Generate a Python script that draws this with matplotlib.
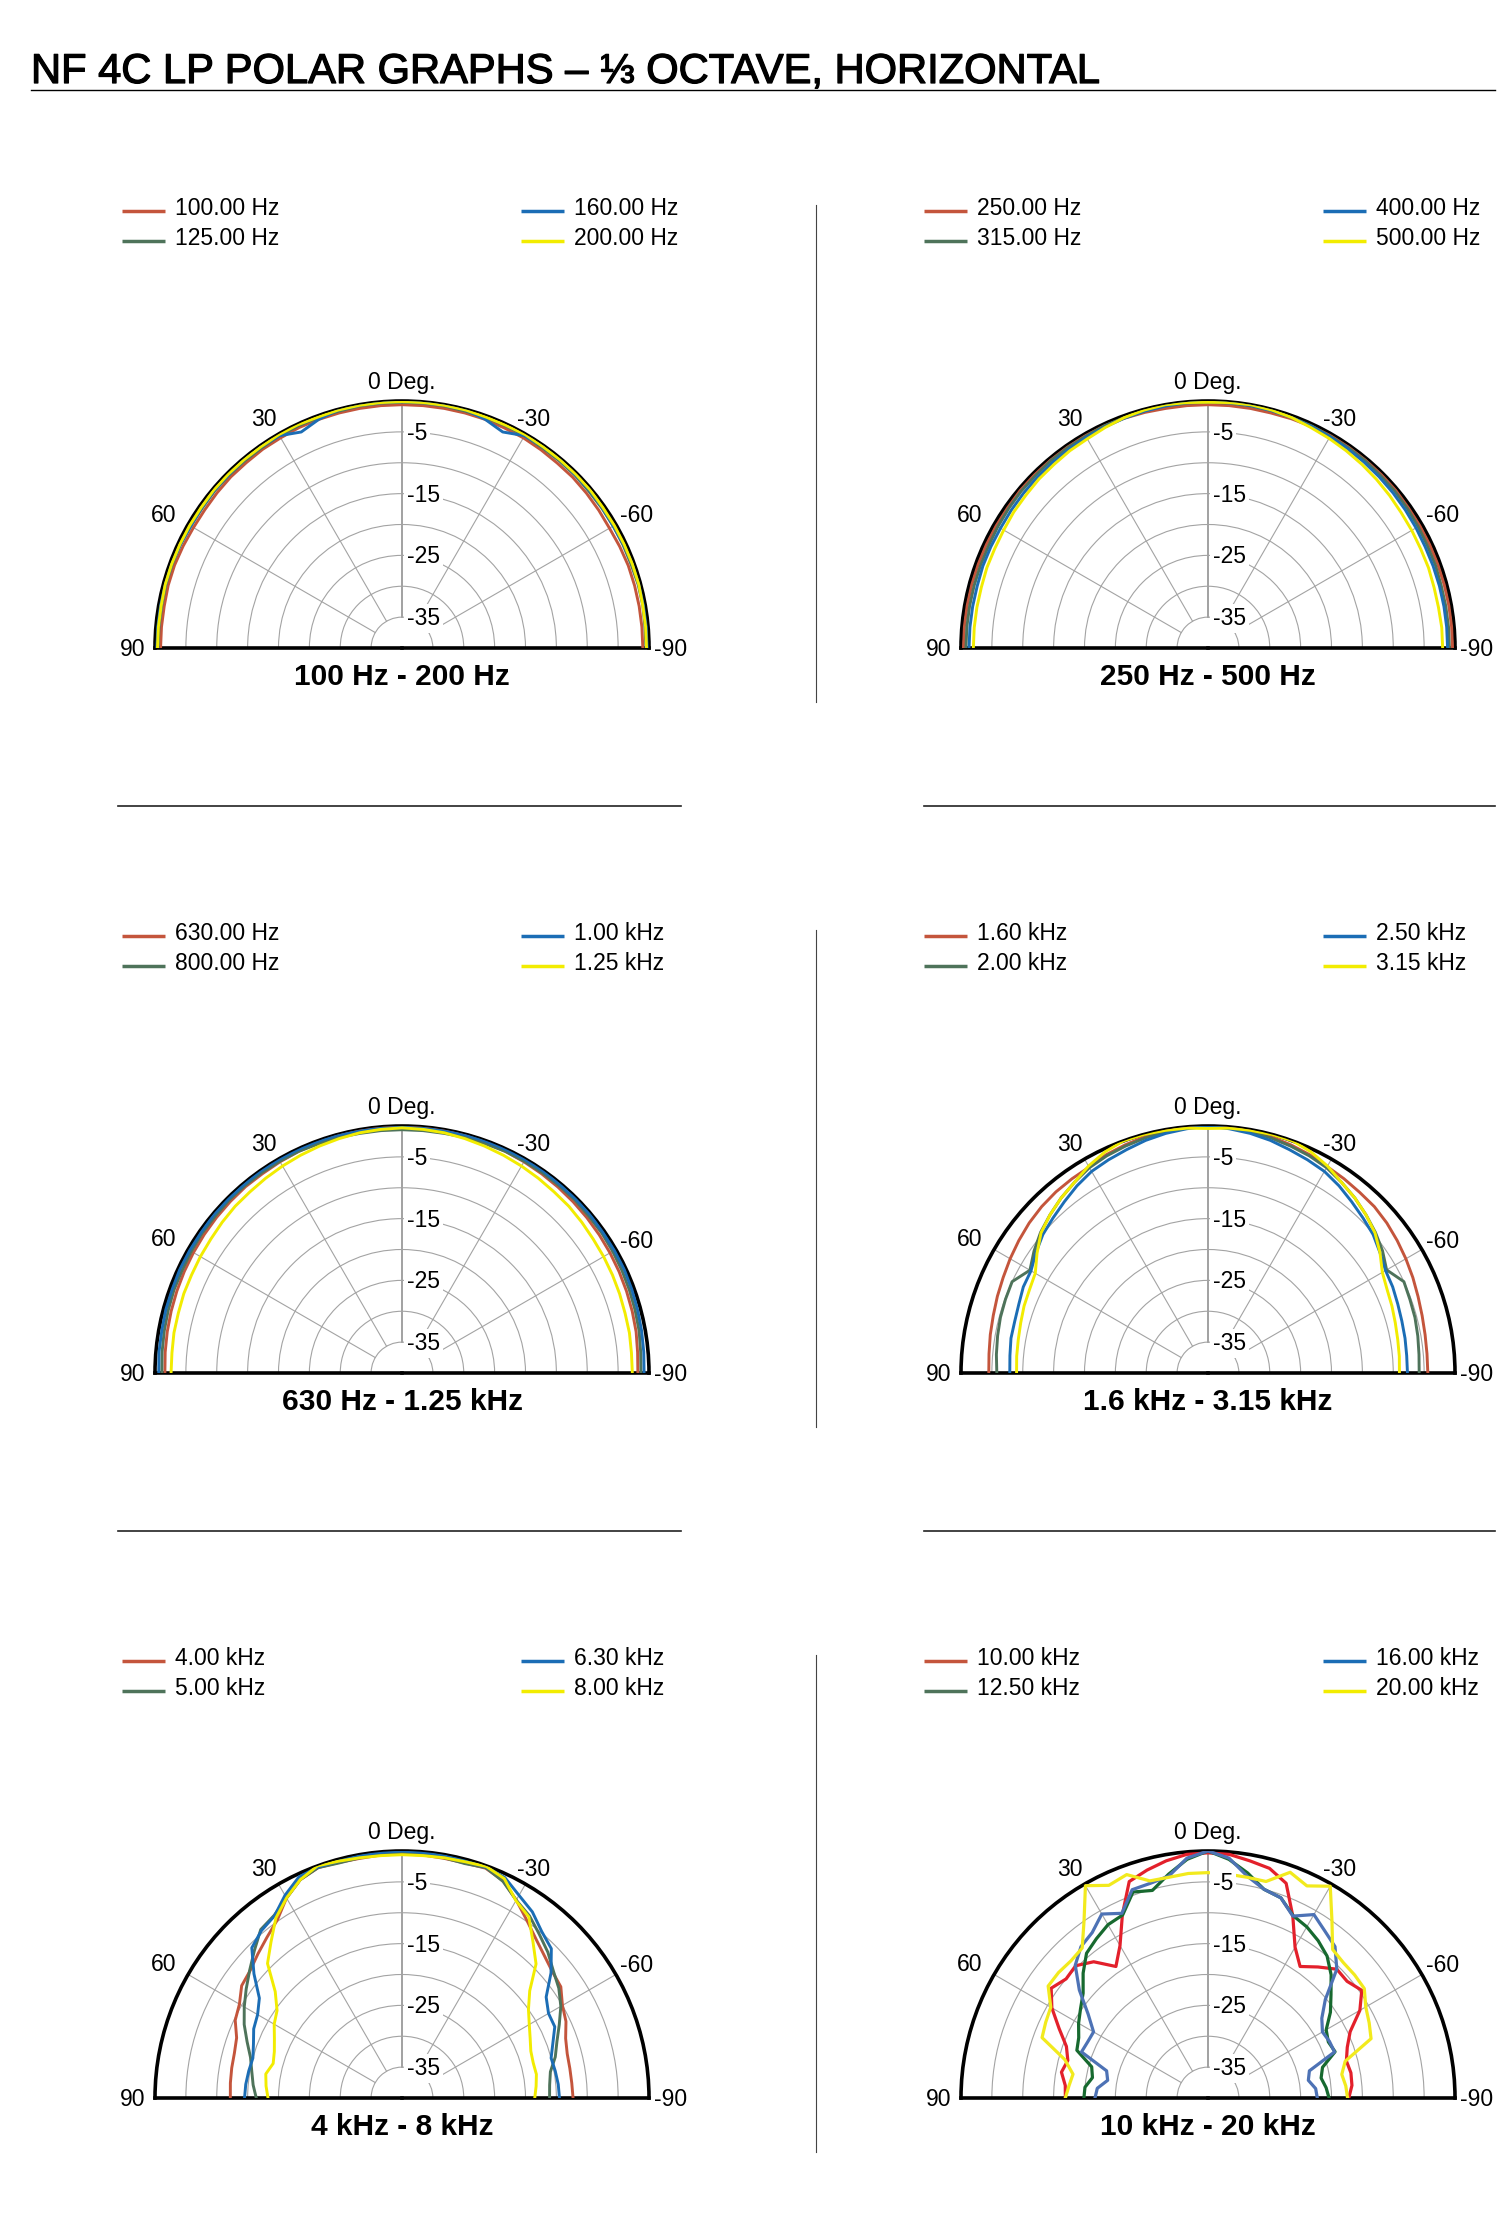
import numpy as np
import matplotlib.pyplot as plt
import matplotlib.patheffects as pe
from matplotlib.lines import Line2D

W, H = 1500, 2240
plt.rcParams['font.family'] = ['Liberation Sans', 'DejaVu Sans']

# measurement angles, left (+90) to right (-90)
angles = np.arange(90, -91, -5)

title = 'NF 4C LP POLAR GRAPHS \u2013 \u2153 OCTAVE, HORIZONTAL'
panel_titles = ['100 Hz - 200 Hz', '250 Hz - 500 Hz', '630 Hz - 1.25 kHz',
                '1.6 kHz - 3.15 kHz', '4 kHz - 8 kHz', '10 kHz - 20 kHz']
legend_labels = [
    ['100.00 Hz', '125.00 Hz', '160.00 Hz', '200.00 Hz'],
    ['250.00 Hz', '315.00 Hz', '400.00 Hz', '500.00 Hz'],
    ['630.00 Hz', '800.00 Hz', '1.00 kHz', '1.25 kHz'],
    ['1.60 kHz', '2.00 kHz', '2.50 kHz', '3.15 kHz'],
    ['4.00 kHz', '5.00 kHz', '6.30 kHz', '8.00 kHz'],
    ['10.00 kHz', '12.50 kHz', '16.00 kHz', '20.00 kHz'],
]

# dB values, 37 points each (90 ... 0 ... -90)
f100 = [-0.9, -0.9, -0.9, -0.8, -0.8, -0.9, -1.0, -1.0, -0.9, -0.8, -0.8, -0.7, -0.7, -0.6, -0.6, -0.6, -0.6, -0.6, -0.6,
        -0.6, -0.6, -0.6, -0.6, -0.7, -0.7, -0.8, -0.9, -0.9, -1.0, -1.1, -1.2, -1.1, -1.0, -1.0, -1.0, -1.0, -1.0]
f125 = [-0.5, -0.5, -0.5, -0.4, -0.4, -0.4, -0.5, -0.5, -0.4, -0.4, -0.4, -0.4, -0.3, -0.3, -0.3, -0.3, -0.2, -0.2, -0.2,
        -0.2, -0.2, -0.3, -0.3, -0.3, -0.3, -0.4, -0.4, -0.4, -0.5, -0.5, -0.5, -0.5, -0.5, -0.4, -0.4, -0.5, -0.5]
f160 = [-0.3, -0.3, -0.3, -0.3, -0.3, -0.4, -0.5, -0.4, -0.3, -0.3, -0.2, -0.2, -0.3, -1.4, -0.6, -0.1, -0.1, -0.1, -0.1,
        -0.1, -0.1, -0.1, -0.6, -1.4, -0.3, -0.2, -0.2, -0.3, -0.3, -0.4, -0.5, -0.4, -0.3, -0.3, -0.3, -0.3, -0.3]
f200 = [-0.4, -0.4, -0.4, -0.3, -0.3, -0.3, -0.3, -0.3, -0.2, -0.2, -0.2, -0.2, -0.1, -0.1, -0.2, -0.1, -0.1, -0.1, -0.1,
        -0.1, -0.1, -0.1, -0.2, -0.2, -0.1, -0.2, -0.2, -0.2, -0.2, -0.3, -0.3, -0.3, -0.3, -0.3, -0.4, -0.4, -0.4]

f250 = [-0.4, -0.4, -0.4, -0.4, -0.4, -0.4, -0.4, -0.4, -0.3, -0.3, -0.3, -0.3, -0.3, -0.3, -0.4, -0.5, -0.6, -0.6, -0.6,
        -0.6, -0.6, -0.6, -0.5, -0.4, -0.3, -0.3, -0.3, -0.3, -0.3, -0.4, -0.4, -0.4, -0.4, -0.4, -0.4, -0.4, -0.4]
f315 = [-0.8, -0.8, -0.8, -0.8, -0.8, -0.8, -0.7, -0.6, -0.5, -0.5, -0.4, -0.4, -0.4, -0.3, -0.3, -0.2, -0.2, -0.2, -0.2,
        -0.2, -0.2, -0.2, -0.3, -0.3, -0.4, -0.4, -0.4, -0.5, -0.5, -0.6, -0.7, -0.8, -0.8, -0.9, -0.9, -0.9, -0.9]
f400 = [-1.3, -1.3, -1.3, -1.3, -1.2, -1.2, -1.2, -1.1, -1.0, -0.9, -0.8, -0.7, -0.6, -0.5, -0.4, -0.3, -0.2, -0.1, -0.1,
        -0.1, -0.1, -0.2, -0.3, -0.4, -0.5, -0.6, -0.7, -0.8, -0.9, -1.0, -1.1, -1.2, -1.2, -1.2, -1.2, -1.2, -1.2]
f500 = [-2.0, -2.0, -2.0, -2.0, -1.9, -1.9, -1.8, -1.6, -1.5, -1.3, -1.2, -1.0, -0.9, -0.6, -0.3, -0.1, 0.0, -0.1, -0.2,
        -0.1, 0.0, -0.1, -0.3, -0.6, -0.8, -1.0, -1.2, -1.4, -1.6, -1.8, -1.9, -2.0, -2.0, -2.1, -2.1, -2.0, -2.0]

f630 = [-1.6, -1.5, -1.4, -1.3, -1.2, -1.1, -1.0, -0.9, -0.8, -0.7, -0.6, -0.6, -0.5, -0.4, -0.3, -0.2, -0.1, -0.1, -0.1,
        -0.1, -0.1, -0.2, -0.3, -0.4, -0.5, -0.6, -0.7, -0.8, -0.9, -1.0, -1.1, -1.2, -1.3, -1.4, -1.5, -1.7, -1.8]
f800 = [-1.1, -1.0, -0.9, -0.8, -0.7, -0.7, -0.6, -0.5, -0.5, -0.4, -0.4, -0.4, -0.4, -0.4, -0.5, -0.5, -0.6, -0.6, -0.6,
        -0.6, -0.6, -0.5, -0.5, -0.4, -0.4, -0.4, -0.4, -0.4, -0.5, -0.5, -0.6, -0.7, -0.8, -0.9, -1.0, -1.2, -1.3]
f1000 = [-0.6, -0.5, -0.5, -0.4, -0.4, -0.3, -0.3, -0.3, -0.2, -0.2, -0.2, -0.1, -0.1, -0.1, -0.1, -0.1, -0.2, -0.2, -0.2,
         -0.2, -0.2, -0.1, -0.1, -0.1, -0.1, -0.1, -0.2, -0.2, -0.2, -0.3, -0.3, -0.3, -0.4, -0.5, -0.6, -0.7, -0.8]
f1250 = [-2.6, -2.6, -2.5, -2.5, -2.4, -2.4, -2.3, -2.2, -2.0, -1.8, -1.7, -1.5, -1.3, -1.1, -0.9, -0.7, -0.5, -0.4, -0.3,
         -0.4, -0.5, -0.7, -0.9, -1.1, -1.3, -1.5, -1.7, -1.8, -2.0, -2.2, -2.3, -2.4, -2.5, -2.6, -2.6, -2.7, -2.7]

f1600 = [-4.5, -4.4, -4.2, -4.0, -3.7, -3.4, -3.0, -2.6, -2.2, -1.9, -1.7, -1.6, -1.5, -1.0, -0.7, -0.4, -0.2, -0.1, 0.0,
         -0.1, -0.2, -0.4, -0.7, -1.0, -1.4, -1.6, -1.8, -1.9, -2.2, -2.6, -3.0, -3.4, -3.8, -4.1, -4.3, -4.4, -4.4]
f2000 = [-5.8, -5.6, -5.4, -5.2, -5.1, -5.0, -6.7, -5.6, -4.6, -3.8, -3.0, -2.3, -1.6, -1.2, -0.9, -0.6, -0.3, -0.1, 0.0,
         -0.1, -0.3, -0.6, -0.9, -1.2, -1.6, -2.3, -3.0, -3.8, -4.6, -5.5, -6.6, -5.0, -5.2, -5.3, -5.5, -5.7, -5.8]
f2500 = [-7.9, -7.8, -7.6, -7.6, -7.4, -7.0, -6.9, -6.0, -5.1, -4.5, -3.8, -3.0, -2.3, -1.9, -1.5, -1.0, -0.6, -0.3, 0.0,
         -0.3, -0.6, -1.0, -1.5, -1.9, -2.3, -3.0, -3.8, -4.5, -5.1, -6.0, -6.8, -7.0, -7.3, -7.5, -7.6, -7.7, -7.7]
f3150 = [-9.0, -8.9, -8.8, -8.6, -8.3, -8.1, -7.7, -6.2, -4.7, -3.8, -3.0, -2.3, -1.3, -0.5, 0.0, 0.0, -0.1, -0.2, -0.4,
         -0.2, -0.1, 0.0, 0.0, -0.5, -1.3, -2.3, -3.0, -3.8, -4.7, -6.0, -7.4, -8.0, -8.3, -8.6, -8.8, -8.9, -9.0]

f4000 = [-12.2, -12.1, -12.0, -11.9, -11.5, -10.2, -9.6, -8.3, -7.9, -7.0, -6.0, -4.8, -2.6, -1.0, -0.3, -0.5, -0.6, -0.5, -0.5,
         -0.5, -0.6, -0.6, -0.4, -1.2, -3.0, -4.8, -6.3, -7.4, -8.2, -8.6, -10.0, -10.7, -11.8, -12.3, -12.4, -12.4, -12.3]
f5000 = [-16.4, -15.8, -15.3, -14.6, -13.3, -11.8, -10.5, -9.2, -7.8, -6.2, -4.4, -3.9, -2.6, -1.0, -0.3, -0.6, -0.5, -0.3, -0.2,
         -0.3, -0.5, -0.7, -0.3, -1.3, -3.0, -4.0, -5.4, -6.6, -8.0, -9.0, -10.3, -11.9, -13.3, -14.3, -15.6, -16.0, -16.1]
f6300 = [-14.5, -14.6, -14.8, -15.0, -14.4, -13.5, -13.0, -11.8, -8.7, -5.6, -4.6, -4.0, -2.1, -0.5, -0.2, -0.3, -0.2, -0.1, 0.0,
         -0.1, -0.2, -0.3, -0.2, -0.6, -2.1, -3.2, -4.8, -5.8, -8.5, -11.5, -12.6, -12.7, -14.0, -15.0, -14.8, -14.6, -14.5]
f8000 = [-18.3, -17.9, -17.6, -18.4, -18.0, -17.2, -16.1, -15.3, -13.2, -9.2, -7.0, -4.4, -2.6, -1.0, 0.0, -0.3, -0.5, -0.6, -0.6,
         -0.6, -0.5, -0.4, -0.1, -0.8, -3.1, -4.2, -7.0, -9.3, -13.0, -15.0, -16.2, -17.1, -17.8, -18.0, -17.9, -18.2, -18.5]

f10k = [-16.9, -16.8, -15.9, -16.5, -15.6, -13.4, -10.8, -9.0, -10.0, -9.7, -11.2, -14.0, -11.5, -7.2, -2.7, -1.8, -1.0, -0.4, -0.3,
        -0.4, -1.0, -1.5, -3.0, -7.5, -11.8, -14.0, -12.3, -10.5, -10.6, -9.6, -11.6, -14.6, -16.0, -16.8, -16.5, -16.6, -17.2]
f12k5 = [-19.9, -20.0, -21.0, -20.5, -17.4, -16.9, -15.8, -14.8, -13.6, -11.4, -9.4, -8.5, -7.6, -7.3, -4.5, -5.2, -3.2, -1.2, 0.0,
         -1.2, -3.0, -5.0, -5.5, -7.4, -8.0, -8.9, -10.0, -11.8, -14.0, -15.8, -17.9, -18.5, -18.1, -20.8, -21.4, -20.8, -20.4]
f16k = [-21.7, -22.0, -23.5, -23.0, -18.2, -18.5, -18.6, -16.3, -12.8, -9.6, -8.0, -7.3, -5.6, -7.0, -4.1, -4.0, -3.5, -1.0, 0.0,
        -1.0, -3.5, -5.0, -5.5, -7.5, -5.7, -7.0, -8.0, -10.5, -15.2, -17.5, -18.6, -18.3, -18.2, -23.0, -23.5, -22.5, -22.3]
f20k = [-16.9, -17.4, -17.8, -16.0, -11.4, -11.0, -10.6, -8.4, -8.4, -8.6, -8.3, -5.0, -0.3, -2.0, -1.5, -3.6, -3.7, -3.5, -3.5,
        -3.6, -3.7, -3.7, -1.1, -2.1, -0.4, -5.0, -8.6, -9.0, -9.0, -9.1, -10.5, -11.2, -11.9, -17.0, -18.0, -17.6, -17.4]

series = [
    [f100, f125, f160, f200],
    [f250, f315, f400, f500],
    [f630, f800, f1000, f1250],
    [f1600, f2000, f2500, f3150],
    [f4000, f5000, f6300, f8000],
    [f10k, f12k5, f16k, f20k],
]

colors = ['#c4553c', '#4e735a', '#1b6db5', '#f2ec00']
colors_hf = ['#e3202b', '#17692f', '#4d72b5', '#f2ea1d']

fig = plt.figure(figsize=(15, 22.4), dpi=100)


def fx(x):
    return x / W


def fy(y):
    return 1 - y / H


fig.text(fx(31), fy(83), title, fontsize=30, ha='left', va='baseline',
         path_effects=[pe.withStroke(linewidth=0.9, foreground='black')])
fig.add_artist(Line2D([fx(31), fx(1495)], [fy(90), fy(90)], color='black', lw=1.0))

# separators
for row in range(3):
    fig.add_artist(Line2D([fx(816), fx(816)], [fy(205 + 725 * row), fy(702 + 725 * row)],
                          color='#444444', lw=0.8))
for row in range(2):
    y = fy(806 + 725 * row)
    fig.add_artist(Line2D([fx(118), fx(681)], [y, y], color='#222222', lw=1.2))
    fig.add_artist(Line2D([fx(924), fx(1495)], [y, y], color='#222222', lw=1.2))

R = 247
small = 16.5

for i in range(6):
    row, col = divmod(i, 2)
    cx = 402 if col == 0 else 1208
    base = 648 + 725 * row

    # legend
    for k in range(4):
        lx = 122 + 399 * (k // 2) + 802 * col
        ly = 208 + 30 * (k % 2) + 725 * row
        fig.add_artist(Line2D([fx(lx), fx(lx + 43)], [fy(ly + 3), fy(ly + 3)],
                              color=colors[k], lw=2.5, solid_capstyle='butt'))
        fig.text(fx(lx + 53), fy(ly + 7), legend_labels[i][k], fontsize=small,
                 ha='left', va='baseline')

    # square box: the half disc sits in its middle
    ax = fig.add_axes([fx(cx - R), fy(base + R / 2), 2 * R / W, 2 * R / H], projection='polar')
    ax.set_theta_zero_location('N')
    ax.set_theta_direction(1)
    ax.set_thetamin(-90)
    ax.set_thetamax(90)
    ax.set_ylim(-40, 0)
    ax.set_xticks([])
    ax.set_yticks(np.arange(-35, 0, 5))
    ax.set_yticklabels([])
    ax.tick_params(axis='y', length=0)
    ax.yaxis.grid(True, color='#a3a3a3', lw=0.8)
    for a in [-60, -30, 30, 60]:
        ax.plot([np.radians(a)] * 2, [-35, 0], color='#a3a3a3', lw=0.8, zorder=1)
    ax.plot([0, 0], [-35, 0], color='#9a9a9a', lw=1.3, zorder=1)
    for name in ['polar', 'start', 'end']:
        ax.spines[name].set_linewidth(2.6)
        ax.spines[name].set_color('black')
    ax.spines['inner'].set_visible(False)

    cols = colors_hf if i == 5 else colors
    lw = 2.3 if i == 5 else 2.1
    for k in range(4):
        ax.plot(np.radians(angles), series[i][k], color=cols[k], lw=lw, zorder=3)

    for v in [-5, -15, -25, -35]:
        ax.annotate(str(v), xy=(0, v), xytext=(5, -8), textcoords='offset pixels',
                    ha='left', va='baseline', fontsize=small, zorder=6,
                    bbox=dict(boxstyle='square,pad=0.12', fc='white', ec='none'))

    angle_labels = [('0 Deg.', 0, 0, 12, 'center'),
                    ('30', 30, -2, 8, 'right'), ('-30', -30, -8, 8, 'left'),
                    ('60', 60, -12, 3, 'right'), ('-60', -60, 4, 2, 'left'),
                    ('90', 90, -10, -8, 'right'), ('-90', -90, 5, -8, 'left')]
    for txt, a, dx, dy, ha in angle_labels:
        ax.annotate(txt, xy=(np.radians(a), 0), xytext=(dx, dy), textcoords='offset pixels',
                    ha=ha, va='baseline', fontsize=small, annotation_clip=False)

    fig.text(fx(cx), fy(base + 37), panel_titles[i], fontsize=21.5, fontweight='bold',
             ha='center', va='baseline')

fig.savefig('out.png', dpi=100, facecolor='white')
